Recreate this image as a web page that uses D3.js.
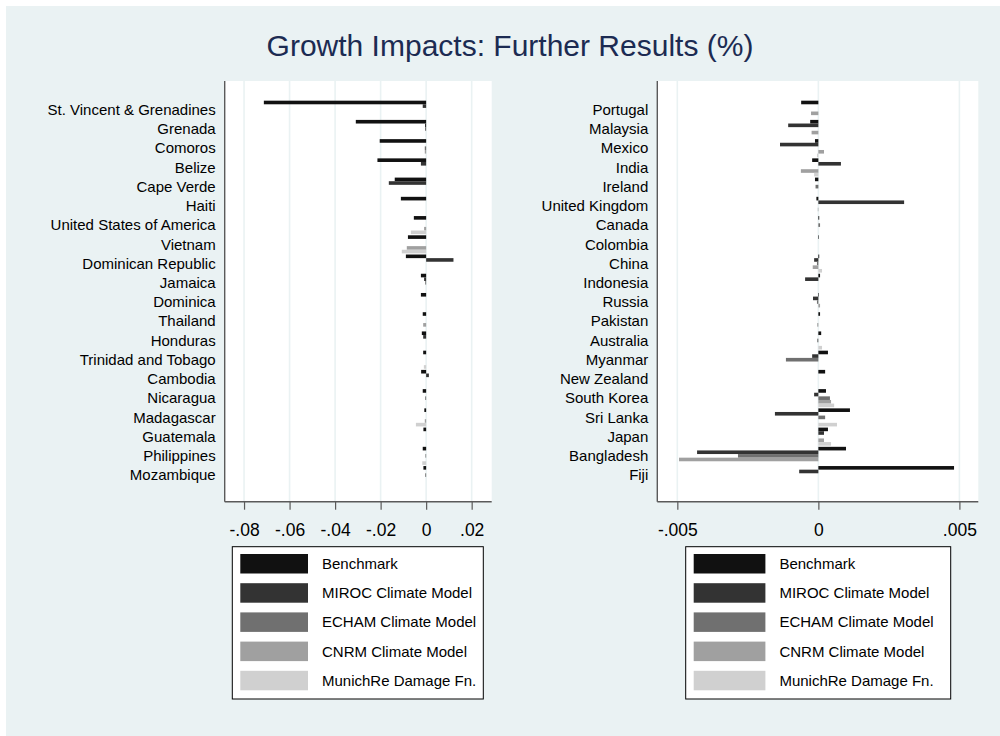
<!DOCTYPE html>
<html>
<head>
<meta charset="utf-8">
<script src="https://cdn.jsdelivr.net/npm/d3@7"></script>
<style>
  html, body { margin: 0; padding: 0; background: #ffffff; }
  svg text { font-family: "Liberation Sans", Arial, Helvetica, sans-serif; }
</style>
</head>
<body>
<div id="chart"></div>
<script>
// Data
const seriesNames = ['Benchmark', 'MIROC Climate Model', 'ECHAM Climate Model', 'CNRM Climate Model', 'MunichRe Damage Fn.']
const seriesColors = ['#111111', '#333333', '#707070', '#a0a0a0', '#d0d0d0']

const leftCountries = ['St. Vincent & Grenadines', 'Grenada', 'Comoros', 'Belize', 'Cape Verde', 'Haiti',
  'United States of America', 'Vietnam', 'Dominican Republic', 'Jamaica', 'Dominica', 'Thailand', 'Honduras',
  'Trinidad and Tobago', 'Cambodia', 'Nicaragua', 'Madagascar', 'Guatemala', 'Philippines', 'Mozambique']
const leftBenchmark = [-0.0713, -0.0309, -0.0204, -0.0214, -0.0138, -0.0111, -0.0054, -0.0080, -0.0089, -0.0023,
  -0.0023, -0.0015, -0.0019, -0.0013, -0.0022, -0.0015, -0.0008, -0.0012, -0.0015, -0.0012]
const leftMiroc = [-0.0015, -0.0005, 0, -0.0023, -0.0164, 0, 0, 0, 0.0120, -0.0009,
  0, 0, -0.0013, 0, 0.0012, 0, 0, 0, 0, 0]
const leftEcham = [0, -0.0005, -0.0006, 0, 0, 0, 0, 0, 0, -0.0004,
  0, 0, 0, 0, 0, -0.0004, 0, 0, -0.0003, -0.0004]
const leftCnrm = [0, 0, -0.0006, 0, 0, 0, -0.0009, -0.0085, 0, 0,
  0, -0.0013, 0, 0, 0, 0, -0.0006, 0, 0, 0]
const leftMunich = [0, 0, 0, 0, 0, 0, -0.0067, -0.0107, 0, 0,
  0, 0, 0, -0.0010, 0, 0, -0.0045, 0, -0.0017, 0]
const leftTicks = [-0.08, -0.06, -0.04, -0.02, 0, 0.02]
const leftTickLabels = ['-.08', '-.06', '-.04', '-.02', '0', '.02']

const rightCountries = ['Portugal', 'Malaysia', 'Mexico', 'India', 'Ireland', 'United Kingdom', 'Canada',
  'Colombia', 'China', 'Indonesia', 'Russia', 'Pakistan', 'Australia', 'Myanmar', 'New Zealand',
  'South Korea', 'Sri Lanka', 'Japan', 'Bangladesh', 'Fiji']
const rightBenchmark = [-0.00061, -0.00029, -0.00012, -0.00022, -0.00012, -0.00007, 0.00003, 0.00002, 0.00003, 0.00006,
  0.00002, 0.00006, 0.00010, 0.00034, 0.00024, 0.00027, 0.00112, 0.00034, 0.00098, 0.00481]
const rightMiroc = [0, -0.00107, -0.00136, 0.00080, 0, 0.00304, 0, 0, -0.00015, -0.00047,
  -0.00019, 0, 0, -0.00022, 0, -0.00015, -0.00154, 0.00020, -0.00430, -0.00068]
const rightEcham = [0, 0, 0, 0, -0.00010, 0, 0.00006, 0, -0.00005, 0,
  -0.00005, 0, -0.00004, -0.00115, 0, 0.00041, 0.00024, 0, -0.00285, 0]
const rightCnrm = [-0.00026, -0.00024, 0.00020, -0.00062, 0, -0.00002, 0, 0, -0.00020, 0,
  0.00006, -0.00004, 0, 0, 0, 0.00045, 0, 0.00020, -0.00494, 0]
const rightMunich = [0, 0, -0.00005, -0.00015, 0, 0, 0, 0, 0.00013, 0,
  0, 0, 0.00013, 0, 0, 0.00056, 0.00066, 0.00045, 0, 0]
const rightTicks = [-0.005, 0, 0.005]
const rightTickLabels = ['-.005', '0', '.005']

// Dimensions
const dimensions = {
  width: 1000,
  height: 736,
  plotTop: 81,
  plotBottom: 501.7,
  bandTop: 100.1,
  bandBottom: 484.7
}

const svg = d3.select('#chart')
  .append('svg')
  .attr('width', dimensions.width)
  .attr('height', dimensions.height)

// outer background
svg.append('rect')
  .attr('x', 6).attr('y', 6)
  .attr('width', dimensions.width - 6).attr('height', dimensions.height - 6)
  .attr('fill', '#eaf2f3')

svg.append('text')
  .attr('x', 510)
  .attr('y', 56)
  .attr('text-anchor', 'middle')
  .attr('font-size', 30)
  .attr('fill', '#1c2b52')
  .text('Growth Impacts: Further Results (%)')

function drawPanel(cfg) {
  const xScale = d3.scaleLinear()
    .domain(cfg.domain)
    .range([cfg.left, cfg.right])

  const yScale = d3.scaleBand()
    .domain(cfg.countries)
    .range([dimensions.bandTop, dimensions.bandBottom])
    .paddingInner(0.06)
    .paddingOuter(0.03)

  const subScale = d3.scaleBand()
    .domain(d3.range(seriesNames.length))
    .range([0, yScale.bandwidth()])

  const g = svg.append('g')

  // plot region
  g.append('rect')
    .attr('x', cfg.left)
    .attr('y', dimensions.plotTop)
    .attr('width', cfg.right - cfg.left)
    .attr('height', dimensions.plotBottom - dimensions.plotTop)
    .attr('fill', '#ffffff')

  // gridlines
  g.selectAll('.grid')
    .data(cfg.ticks)
    .join('line')
    .attr('x1', d => xScale(d)).attr('x2', d => xScale(d))
    .attr('y1', dimensions.plotTop).attr('y2', dimensions.plotBottom)
    .attr('stroke', '#eaf2f3')
    .attr('stroke-width', 1.6)

  // bars
  const rows = []
  cfg.countries.forEach((c, i) => {
    cfg.series.forEach((s, j) => {
      rows.push({ country: c, series: j, value: s[i] })
    })
  })
  g.selectAll('.bar')
    .data(rows.filter(d => d.value !== 0))
    .join('rect')
    .attr('x', d => Math.min(xScale(0), xScale(d.value)))
    .attr('width', d => Math.abs(xScale(d.value) - xScale(0)))
    .attr('y', d => yScale(d.country) + subScale(d.series))
    .attr('height', subScale.bandwidth())
    .attr('fill', d => seriesColors[d.series])

  // axes
  const xAxis = d3.axisBottom(xScale)
    .tickValues(cfg.ticks)
    .tickSize(8)
    .tickFormat((d, i) => cfg.tickLabels[i])
  const xAxisGroup = g.append('g')
    .attr('transform', `translate(0,${dimensions.plotBottom})`)
    .call(xAxis)
  xAxisGroup.select('.domain')
    .attr('d', `M${cfg.left},0H${cfg.right}`)
    .attr('stroke', '#5a5a5a').attr('stroke-width', 1.4)
  xAxisGroup.selectAll('.tick line').attr('stroke', '#5a5a5a').attr('stroke-width', 1.2)
  xAxisGroup.selectAll('.tick text')
    .attr('font-size', 17.5)
    .attr('fill', '#000')
    .attr('dy', '1.35em')

  const yAxis = d3.axisLeft(yScale).tickSize(0).tickPadding(9)
  const yAxisGroup = g.append('g')
    .attr('transform', `translate(${cfg.left},0)`)
    .call(yAxis)
  yAxisGroup.select('.domain')
    .attr('d', `M0,${dimensions.plotTop}V${dimensions.plotBottom}`)
    .attr('stroke', '#5a5a5a').attr('stroke-width', 1.4)
  yAxisGroup.selectAll('.tick text')
    .attr('font-size', 15)
    .attr('fill', '#000')
    .attr('dy', '0.35em')

  // legend
  const lg = g.append('g')
  lg.append('rect')
    .attr('x', cfg.legend.x).attr('y', 546.7)
    .attr('width', cfg.legend.w).attr('height', 152.3)
    .attr('fill', '#ffffff')
    .attr('stroke', '#000').attr('stroke-width', 1)
  const items = lg.selectAll('.item')
    .data(seriesNames)
    .join('g')
    .attr('transform', (d, i) => `translate(0,${554 + i * 29.2})`)
  items.append('rect')
    .attr('x', cfg.legend.x + 8)
    .attr('width', cfg.legend.sw)
    .attr('height', 19.5)
    .attr('fill', (d, i) => seriesColors[i])
  items.append('text')
    .attr('x', cfg.legend.x + 8 + cfg.legend.sw + 14)
    .attr('y', 15)
    .attr('font-size', 15)
    .attr('fill', '#000')
    .text(d => d)
}

drawPanel({
  countries: leftCountries,
  series: [leftBenchmark, leftMiroc, leftEcham, leftCnrm, leftMunich],
  ticks: leftTicks,
  tickLabels: leftTickLabels,
  domain: [-0.0885, 0.0288],
  left: 224.7,
  right: 491.7,
  legend: { x: 232.3, w: 251, sw: 67.7 }
})

drawPanel({
  countries: rightCountries,
  series: [rightBenchmark, rightMiroc, rightEcham, rightCnrm, rightMunich],
  ticks: rightTicks,
  tickLabels: rightTickLabels,
  domain: [-0.00571, 0.00567],
  left: 657.3,
  right: 978.3,
  legend: { x: 685.7, w: 265, sw: 71.7 }
})
</script>
</body>
</html>
